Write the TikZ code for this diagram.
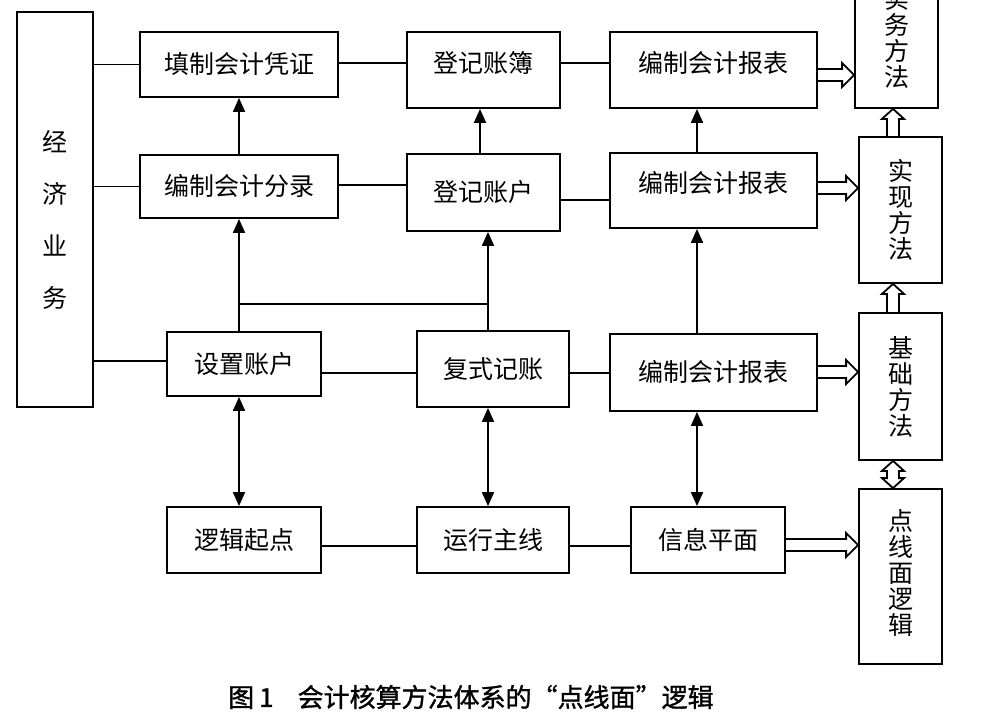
\documentclass[tikz,border=0pt]{standalone}
\usepackage{fontspec}
\setmainfont{Noto Sans CJK SC}
\newfontfamily\capfont[FakeBold=1.2]{Noto Sans CJK SC}
\usetikzlibrary{arrows.meta,calc}
\newcommand\fatH[2]{\draw[fat] ($(#1)+(0,-6)$) -- ($(#2)+(-12,-6)$) -- ($(#2)+(-12,-12)$) -- (#2) -- ($(#2)+(-12,12)$) -- ($(#2)+(-12,6)$) -- ($(#1)+(0,6)$);}
\newcommand\fatV[2]{\draw[fat] ($(#1)+(-6,0)$) -- ($(#2)+(-6,10)$) -- ($(#2)+(-11,10)$) -- (#2) -- ($(#2)+(11,10)$) -- ($(#2)+(6,10)$) -- ($(#1)+(6,0)$);}
\newcommand\fatVV[2]{\draw[fat] ($(#1)+(-6,-10)$) -- ($(#2)+(-6,10)$) -- ($(#2)+(-11,10)$) -- (#2) -- ($(#2)+(11,10)$) -- ($(#2)+(6,10)$) -- ($(#1)+(6,-10)$) -- ($(#1)+(11,-10)$) -- (#1) -- ($(#1)+(-11,-10)$) -- cycle;}
\begin{document}
\begin{tikzpicture}[x=1pt,y=-1pt,
  box/.style={draw, line width=1.8pt, inner sep=0pt, font=\fontsize{25}{26}\selectfont, text height=21pt, text depth=3pt},
  upbox/.style={box, text depth=17pt},
  vbox/.style={draw, line width=1.8pt, inner sep=0pt},
  vtext/.style={align=center, font=\fontsize{25}{26}\selectfont},
  conn/.style={line width=1.8pt},
  arr/.style={conn, -{Triangle[length=14pt,width=12pt]}},
  darr/.style={conn, {Triangle[length=14pt,width=12pt]}-{Triangle[length=14pt,width=12pt]}},
  fat/.style={line width=1.8pt, line join=miter},
]
\useasboundingbox (0,0) rectangle (1000,712);
\clip (0,0) rectangle (1000,712);

% left column
\node[vbox, minimum width=76pt, minimum height=395pt,
      label={[vtext, font=\fontsize{25}{52}\selectfont, yshift=-10pt]center:经\\济\\业\\务}] (econ) at (55,209.5) {};

% boxes
\node[box, minimum width=198pt, minimum height=65pt] (tz) at (239,64.5) {填制会计凭证};
\node[box, minimum width=198pt, minimum height=63pt] (fl) at (239,186.5) {编制会计分录};
\node[box, minimum width=154pt, minimum height=64pt] (sz) at (244,364) {设置账户};
\node[upbox, minimum width=153pt, minimum height=76pt] (dz) at (483.5,70) {登记账簿};
\node[box, minimum width=153pt, minimum height=77pt] (dh) at (483.5,192.5) {登记账户};
\node[box, minimum width=152pt, minimum height=76pt] (fs) at (493,369) {复式记账};
\node[upbox, minimum width=207pt, minimum height=76pt] (r1) at (713.5,70) {编制会计报表};
\node[upbox, minimum width=207pt, minimum height=75pt] (r2) at (713.5,190.5) {编制会计报表};
\node[box, minimum width=207pt, minimum height=77pt] (r3) at (713.5,372.5) {编制会计报表};
\node[box, minimum width=154pt, minimum height=66pt] (lj) at (244,540) {逻辑起点};
\node[box, minimum width=152pt, minimum height=66pt] (yx) at (493,540) {运行主线};
\node[box, minimum width=154pt, minimum height=66pt] (xx) at (708,540) {信息平面};

% right column
\node[vbox, minimum width=83pt, minimum height=140pt,
      label={[vtext]center:实\\务\\方\\法}] (sw) at (896.5,38) {};
\node[vbox, minimum width=83pt, minimum height=146pt,
      label={[vtext]center:实\\现\\方\\法}] (sx) at (900.5,210) {};
\node[vbox, minimum width=83pt, minimum height=147pt,
      label={[vtext]center:基\\础\\方\\法}] (jc) at (900.5,386.5) {};
\node[vbox, minimum width=83pt, minimum height=175pt,
      label={[vtext, yshift=4pt]center:点\\线\\面\\逻\\辑}] (dx) at (900.5,576.5) {};

% plain connectors
\draw[conn] (econ.east |- tz.west) -- (tz.west);
\draw[conn] (econ.east |- fl.west) -- (fl.west);
\draw[conn] (econ.east |- 0,361) -- (sz.west |- 0,361);
\draw[conn] (tz.east |- 0,63) -- (dz.west |- 0,63);
\draw[conn] (dz.east |- 0,63) -- (r1.west |- 0,63);
\draw[conn] (fl.east |- 0,185) -- (dh.west |- 0,185);
\draw[conn] (dh.east |- 0,200) -- (r2.west |- 0,200);
\draw[conn] (sz.east |- 0,373) -- (fs.west |- 0,373);
\draw[conn] (fs.east |- 0,373) -- (r3.west |- 0,373);
\draw[conn] (lj.east |- 0,546) -- (yx.west |- 0,546);
\draw[conn] (yx.east |- 0,546) -- (xx.west |- 0,546);

% arrows
\coordinate (j1) at (fl.south |- 0,304);
\coordinate (j2) at (488,304);
\coordinate (c697) at (697,0);
\draw[arr] (fl.north) -- (tz.south);
\draw[arr] (sz.north -| fl.south) -- (fl.south);
\draw[conn] (j1) -- (j2);
\draw[arr] (fs.north -| j2) -- (dh.south -| j2);
\draw[arr] ([xshift=-3.5pt]dh.north) -- ([xshift=-3.5pt]dz.south);
\draw[arr] (r2.north -| c697) -- (r1.south -| c697);
\draw[arr] (r3.north -| c697) -- (r2.south -| c697);
\draw[darr] (sz.south -| fl.south) -- (lj.north -| fl.south);
\draw[darr] (fs.south -| j2) -- (yx.north -| j2);
\draw[darr] (r3.south -| c697) -- (xx.north -| c697);

% fat arrows
\coordinate (h1a) at (r1.east |- 0,75);  \coordinate (h1b) at (sw.west |- 0,75);
\coordinate (h2a) at (r2.east |- 0,188); \coordinate (h2b) at (sx.west |- 0,188);
\coordinate (h3a) at (r3.east |- 0,372); \coordinate (h3b) at (jc.west |- 0,372);
\coordinate (h4a) at (xx.east |- 0,545); \coordinate (h4b) at (dx.west |- 0,545);
\fatH{h1a}{h1b}
\fatH{h2a}{h2b}
\fatH{h3a}{h3b}
\fatH{h4a}{h4b}
\coordinate (v1a) at (sx.north -| 893,0); \coordinate (v1b) at (sw.south -| 893,0);
\coordinate (v2a) at (jc.north -| 893,0); \coordinate (v2b) at (sx.south -| 893,0);
\coordinate (v3a) at (dx.north -| 893,0); \coordinate (v3b) at (jc.south -| 893,0);
\fatV{v1a}{v1b}
\fatV{v2a}{v2b}
\fatVV{v3a}{v3b}

% caption
\node[font=\capfont\fontsize{26}{26}\selectfont, anchor=west, inner sep=0pt] (cap) at (228,697) {图\hspace{5pt}1\hspace{24pt}会计核算方法体系的“点线面”逻辑};
\end{tikzpicture}
\end{document}
